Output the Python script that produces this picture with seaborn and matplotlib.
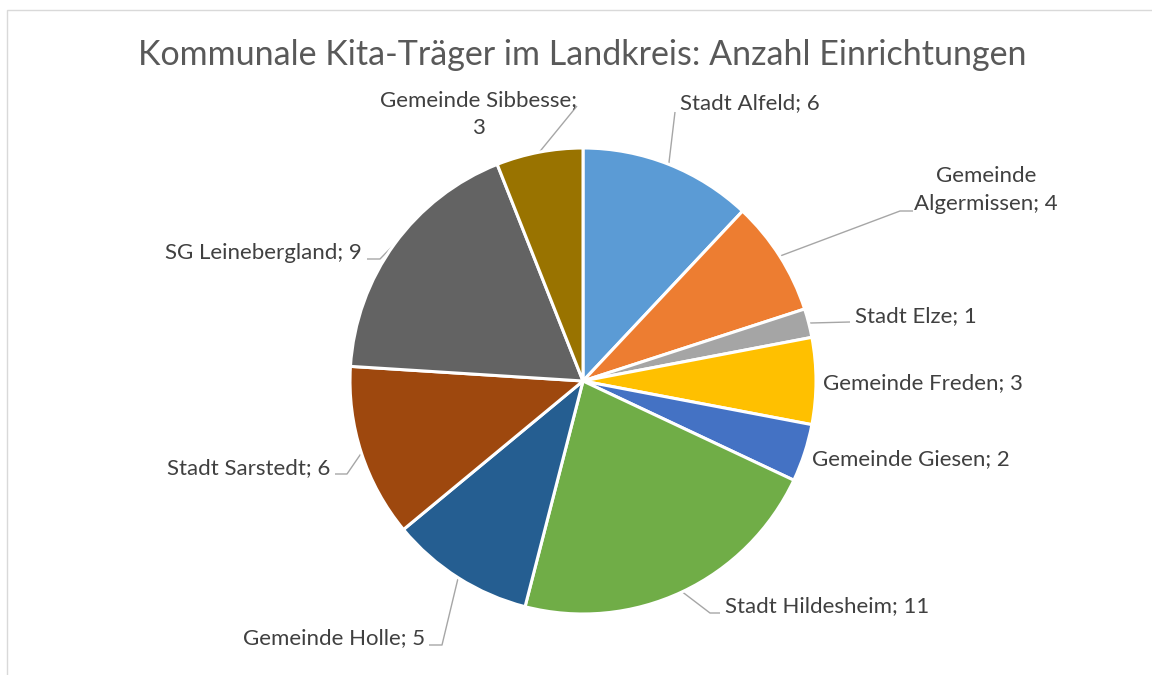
import numpy as np
import matplotlib
matplotlib.use("Agg")
import matplotlib.pyplot as plt
import seaborn as sns
from matplotlib.patches import Rectangle

# ---- data ----
categories = ["Stadt Alfeld", "Gemeinde Algermissen", "Stadt Elze", "Gemeinde Freden",
              "Gemeinde Giesen", "Stadt Hildesheim", "Gemeinde Holle", "Stadt Sarstedt",
              "SG Leinebergland", "Gemeinde Sibbesse"]
values = [6, 4, 1, 3, 2, 11, 5, 6, 9, 3]
title = "Kommunale Kita-Träger im Landkreis: Anzahl Einrichtungen"

colors = ["#5B9BD5", "#ED7D31", "#A5A5A5", "#FFC000", "#4472C4",
          "#70AD47", "#255E91", "#9E480E", "#636363", "#997300"]

# ---- layout (pixel coordinates, y measured from top) ----
W, H = 1152, 675
CX, CY, R = 583, 381, 233
label_layout = [
    dict(x=680, y=103, ha="left", pts=[(675, 112)]),
    dict(x=986, y=190, ha="center", pts=[(900, 211), (913, 211)], wrap="Gemeinde\nAlgermissen"),
    dict(x=855, y=316, ha="left", pts=[(850, 322)]),
    dict(x=823, y=383, ha="left", pts=[]),
    dict(x=812, y=459, ha="left", pts=[]),
    dict(x=725, y=606, ha="left", pts=[(710, 613), (720, 613)]),
    dict(x=425, y=638, ha="right", pts=[(442, 645), (429, 645)]),
    dict(x=330, y=468, ha="right", pts=[(347, 474), (335, 474)]),
    dict(x=362, y=253, ha="right", pts=[(380, 259), (367, 259)]),
    dict(x=478, y=114, ha="center", pts=[(577, 106)], wrap2=True),
]

sns.set_theme(style="white")
plt.rcParams["font.family"] = ["Lato", "DejaVu Sans"]

fig = plt.figure(figsize=(W / 100, H / 100), dpi=100)
fig.patch.set_facecolor("white")
ax = fig.add_axes([0, 0, 1, 1])

def fy(y):
    return H - y

wedges, _ = ax.pie(values, colors=colors, startangle=90, counterclock=False,
                   center=(CX, fy(CY)), radius=R,
                   wedgeprops=dict(edgecolor="white", linewidth=2.2))
ax.set_xlim(0, W)
ax.set_ylim(0, H)
ax.set_aspect("equal")
ax.set_axis_off()

total = sum(values)
cum = np.cumsum([0] + values)
for i, (name, v) in enumerate(zip(categories, values)):
    lay = label_layout[i]
    txt = f"{name}; {v}"
    if "wrap" in lay:
        txt = txt.replace(lay["wrap"].replace("\n", " "), lay["wrap"])
    if lay.get("wrap2"):
        txt = f"{name};\n{v}"
    ax.text(lay["x"], fy(lay["y"]), txt, ha=lay["ha"], va="center",
            multialignment="center", fontsize=16, color="#404040",
            linespacing=1.5)
    if lay["pts"]:
        mid = (cum[i] + v / 2) / total * 2 * np.pi
        sx = CX + R * np.sin(mid)
        sy = CY - R * np.cos(mid)
        xs = [sx] + [p[0] for p in lay["pts"]]
        ys = [fy(sy)] + [fy(p[1]) for p in lay["pts"]]
        ax.plot(xs, ys, color="#A6A6A6", lw=1.0, solid_capstyle="butt", zorder=0.5)

ax.text(582, fy(55), title, ha="center", va="center", fontsize=24.5, color="#595959")

# chart frame
fig.add_artist(Rectangle((7 / W, 0 - 0.1), 2, fy(10) / H + 0.1, transform=fig.transFigure,
                         fill=False, edgecolor="#D9D9D9", lw=1.0))

fig.savefig("out.png", dpi=100, facecolor="white")
